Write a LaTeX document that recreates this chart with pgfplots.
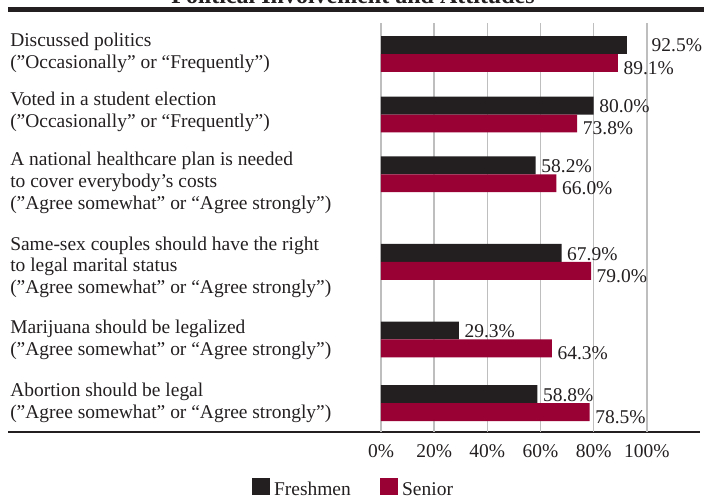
\documentclass[border=0pt]{standalone}
\usepackage{pgfplots}
\pgfplotsset{compat=1.18}
\usepackage{fontspec}
\setmainfont{Liberation Serif}
\definecolor{fresh}{RGB}{35,31,32}
\definecolor{senior}{RGB}{153,0,51}
\definecolor{gridgray}{RGB}{190,190,190}
\newcommand{\lbl}{\fontsize{14.6}{16.35}\selectfont}

\begin{document}
\begin{tikzpicture}
% frame, title and rules in a 707 x 499 grid of 0.75pt cells, y downwards
\begin{scope}[x=0.75pt,y=-0.75pt]
  \useasboundingbox (0,0) rectangle (707,499);
  \node[anchor=base, inner sep=0pt, text=fresh, font=\fontsize{18}{20}\selectfont\bfseries]
    at (353,3) {Political Involvement and Attitudes};
  \draw[line width=3.75pt, fresh] (8,9.4) -- (704,9.4);
  \draw[line width=1.5pt, fresh] (8,432) -- (700,432);
\end{scope}
\begin{axis}[
  at={(285.75pt,-324pt)}, anchor=south west,
  scale only axis, width=239.25pt, height=306.75pt,
  xmin=0, xmax=120, ymin=21, ymax=432, y dir=reverse,
  clip=false,
  axis line style={draw=none},
  major tick length=0pt,
  xtick={0,20,...,100},
  xmajorgrids,
  grid style={gridgray, line width=1.1pt},
  xticklabel={\pgfmathprintnumber{\tick}\%},
  xticklabel style={anchor=north, inner sep=0pt, yshift=-9.2pt, font=\lbl, text=fresh},
  % category names, placed by the baseline of their last line
  ytick={67,126,208,293,355,418},
  yticklabels={
    {Discussed politics\\(”Occasionally” or “Frequently”)},
    {Voted in a student election\\(”Occasionally” or “Frequently”)},
    {A national healthcare plan is needed\\to cover everybody’s costs\\(”Agree somewhat” or “Agree strongly”)},
    {Same-sex couples should have the right\\to legal marital status\\(”Agree somewhat” or “Agree strongly”)},
    {Marijuana should be legalized\\(”Agree somewhat” or “Agree strongly”)},
    {Abortion should be legal\\(”Agree somewhat” or “Agree strongly”)}},
  yticklabel style={align=left, anchor=base west, inner sep=0pt, xshift=-278.25pt, font=\lbl, text=fresh},
  /pgf/number format/assume math mode=true,
  point meta=x,
  nodes near coords={\pgfmathprintnumber[fixed,fixed zerofill,precision=1]{\pgfplotspointmeta}\%},
  every node near coord/.append style={anchor=west, inner sep=0pt, font=\lbl, text=fresh, xshift=4.1pt},
  bars/.style={xbar, bar shift=0pt, bar width=18, draw=none, fill=#1,
    legend image code/.code={\fill[#1] (0pt,-3.95pt) rectangle (13.5pt,8.75pt);}},
  legend columns=2,
  legend style={draw=none, fill=none, inner sep=0pt, outer sep=0pt,
    at={(axis cs:-48.5,489.5)}, anchor=west, font=\lbl, text=fresh,
    nodes={inner xsep=3pt},
    /tikz/every even column/.append style={column sep=19pt}},
]
% Freshmen
\addplot[bars=fresh, every node near coord/.append style={yshift=-0.75pt}]
  coordinates {(80.0,104) (58.2,164) (67.9,252) (29.3,330) (58.8,394)};
\addlegendentry{Freshmen}
% Senior
\addplot[bars=senior, every node near coord/.append style={yshift=-3.75pt}]
  coordinates {(89.1,61) (73.8,122) (66.0,182) (79.0,270) (64.3,348) (78.5,412)};
\addlegendentry{Senior}
% Freshmen, first item (label set clear of the 100% line)
\addplot[bars=fresh, forget plot, every node near coord/.append style={xshift=14.3pt}]
  coordinates {(92.5,43)};
\end{axis}
\end{tikzpicture}
\end{document}
